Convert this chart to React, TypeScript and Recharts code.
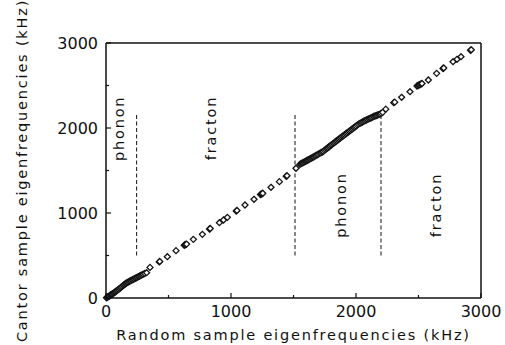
import { ScatterChart, Scatter, XAxis, YAxis, ReferenceLine, ReferenceDot } from "recharts";

// Eigenfrequency pairs (kHz): random sample vs. Cantor sample
const randomKHz = [
  4, 9, 14, 20, 26, 32, 38, 44, 50, 57, 64, 71, 78, 85, 92, 100, 108, 116, 124, 132,
  140, 148, 156, 164, 172, 180, 189, 198, 207, 216, 225, 234, 243, 252, 261, 270, 279, 288, 298, 310,
  325, 352, 426, 430, 491, 560, 626, 632, 638, 645, 699, 771, 828, 834, 907, 940, 971, 1042, 1048, 1112,
  1184, 1236, 1242, 1248, 1254, 1320, 1387, 1442, 1448, 1520,
  1552, 1560, 1568, 1576, 1584, 1592, 1600, 1608, 1616, 1624, 1632, 1640, 1648, 1656, 1664, 1672, 1680, 1690, 1700, 1710,
  1720, 1730, 1739, 1748, 1757, 1766, 1775, 1784, 1793, 1802, 1811, 1820, 1829, 1838, 1847, 1856, 1865, 1874, 1883, 1892,
  1901, 1910, 1919, 1928, 1937, 1946, 1955, 1964, 1973, 1982, 1991, 2000, 2010, 2020, 2032, 2042, 2052, 2062, 2072, 2082,
  2092, 2102, 2112, 2122, 2132, 2142, 2152, 2162, 2172, 2182, 2192, 2202, 2213,
  2238, 2302, 2310, 2365, 2432, 2488, 2496, 2504, 2512, 2520, 2528, 2579, 2645, 2696, 2702, 2776, 2808, 2840, 2916, 2922,
];
const cantorKHz = [
  3, 8, 13, 18, 23, 29, 35, 41, 47, 54, 61, 68, 76, 84, 92, 101, 110, 120, 130, 140,
  150, 160, 168, 176, 183, 190, 197, 204, 211, 218, 225, 232, 238, 245, 252, 259, 266, 273, 280, 288,
  298, 360, 425, 430, 486, 557, 620, 626, 631, 634, 690, 749, 812, 818, 886, 918, 949, 1024, 1030, 1094,
  1161, 1218, 1222, 1226, 1232, 1302, 1369, 1432, 1438, 1526,
  1573, 1580, 1586, 1592, 1598, 1605, 1611, 1618, 1624, 1630, 1637, 1643, 1650, 1656, 1663, 1670, 1677, 1685, 1693, 1702,
  1710, 1718, 1725, 1737, 1748, 1758, 1768, 1779, 1789, 1800, 1810, 1820, 1830, 1841, 1851, 1861, 1872, 1882, 1892, 1902,
  1912, 1922, 1932, 1942, 1952, 1962, 1972, 1982, 1992, 2002, 2012, 2022, 2034, 2045, 2055, 2063, 2071, 2079, 2087, 2094,
  2101, 2108, 2114, 2121, 2128, 2135, 2141, 2147, 2152, 2158, 2163, 2172, 2184,
  2222, 2298, 2304, 2361, 2427, 2494, 2500, 2506, 2512, 2518, 2524, 2565, 2643, 2700, 2706, 2780, 2808, 2839, 2915, 2920,
];

// phonon / fracton crossover frequencies and the span of the dashed markers
const crossoverKHz = [245, 1512, 2200];
const crossoverSpan = [500, 2170];

const regionNames = ["phonon", "fracton", "phonon", "fracton"];
const regionX = [99, 838, 1879, 2639];
const regionY = [1996, 2000, 1094, 1094];

const ticks = [0, 500, 1000, 1500, 2000, 2500, 3000];

const points = randomKHz.map((x, i) => ({ x, y: cantorKHz[i] }));

const FONT = "'DejaVu Sans', sans-serif";
const INK = "#111";
const MARGIN = 8;

const isMajor = (v: number) => v % 1000 === 0;

const BottomTick = ({ x, y, payload }: any) => {
  const y0 = y - MARGIN;
  return (
    <g>
      <line x1={x} x2={x} y1={y0} y2={y0 - (isMajor(payload.value) ? 5 : 3)} stroke={INK} strokeWidth={1.2} />
      {isMajor(payload.value) && (
        <text x={x} y={y} dy="0.71em" textAnchor="middle" fontSize={16} fontFamily={FONT} fill={INK}>
          {payload.value}
        </text>
      )}
    </g>
  );
};

const LeftTick = ({ x, y, payload }: any) => {
  const x0 = x + MARGIN;
  return (
    <g>
      <line x1={x0} x2={x0 + (isMajor(payload.value) ? 5 : 3)} y1={y} y2={y} stroke={INK} strokeWidth={1.2} />
      {isMajor(payload.value) && (
        <text x={x} y={y} dy="0.355em" textAnchor="end" fontSize={16} fontFamily={FONT} fill={INK}>
          {payload.value}
        </text>
      )}
    </g>
  );
};

const TopTick = ({ x, y, payload }: any) => (
  <line x1={x} x2={x} y1={y} y2={y + (isMajor(payload.value) ? 4 : 3)} stroke={INK} strokeWidth={1.2} />
);

const RightTick = ({ x, y, payload }: any) => (
  <line x1={x} x2={x - (isMajor(payload.value) ? 4 : 3)} y1={y} y2={y} stroke={INK} strokeWidth={1.2} />
);

// small open diamond
const Diamond = ({ cx, cy }: any) => {
  const r = 3;
  return (
    <polygon
      points={`${cx},${cy - r} ${cx + r},${cy} ${cx},${cy + r} ${cx - r},${cy}`}
      fill="#fff"
      stroke={INK}
      strokeWidth={1.3}
    />
  );
};

const titleStyle = { fontSize: 14.5, letterSpacing: 1.8, fontFamily: FONT, fill: INK };

export default function App() {
  return (
    <div style={{ position: "absolute", left: 0, top: 0, background: "#fff" }}>
      <ScatterChart width={505} height={345} margin={{ top: 33, right: 14, bottom: 0, left: 0 }}>
        <XAxis
          xAxisId={0}
          dataKey="x"
          type="number"
          domain={[0, 3000]}
          ticks={ticks}
          tickSize={0}
          tickMargin={MARGIN}
          tick={<BottomTick />}
          height={47}
          axisLine={{ stroke: INK, strokeWidth: 1.5 }}
          label={{ value: "Random sample eigenfrequencies (kHz)", position: "insideBottom", offset: 5, style: titleStyle }}
        />
        <XAxis
          xAxisId="top"
          orientation="top"
          type="number"
          domain={[0, 3000]}
          ticks={ticks}
          tickSize={0}
          tickMargin={0}
          tick={<TopTick />}
          height={10}
          axisLine={{ stroke: INK, strokeWidth: 1.5 }}
        />
        <YAxis
          yAxisId={0}
          dataKey="y"
          type="number"
          domain={[0, 3000]}
          ticks={ticks}
          tickSize={0}
          tickMargin={MARGIN}
          tick={<LeftTick />}
          width={106}
          axisLine={{ stroke: INK, strokeWidth: 1.5 }}
          label={{
            value: "Cantor sample eigenfrequencies (kHz)",
            angle: -90,
            position: "insideLeft",
            offset: 22,
            style: { ...titleStyle, textAnchor: "middle" },
          }}
        />
        <YAxis
          yAxisId="right"
          orientation="right"
          type="number"
          domain={[0, 3000]}
          ticks={ticks}
          tickSize={0}
          tickMargin={0}
          tick={<RightTick />}
          width={10}
          axisLine={{ stroke: INK, strokeWidth: 1.5 }}
        />

        {crossoverKHz.map((f) => (
          <ReferenceLine
            key={f}
            xAxisId={0}
            yAxisId={0}
            segment={[{ x: f, y: crossoverSpan[0] }, { x: f, y: crossoverSpan[1] }]}
            stroke={INK}
            strokeWidth={1}
            strokeDasharray="4 2.5"
          />
        ))}

        {regionNames.map((name, i) => (
          <ReferenceDot
            key={i}
            xAxisId={0}
            yAxisId={0}
            x={regionX[i]}
            y={regionY[i]}
            r={0}
            fill="none"
            stroke="none"
            label={{ value: name, position: "center", angle: -90, style: titleStyle }}
          />
        ))}

        <Scatter
          xAxisId={0}
          yAxisId={0}
          data={points}
          shape={<Diamond />}
          isAnimationActive={false}
        />
      </ScatterChart>
    </div>
  );
}
